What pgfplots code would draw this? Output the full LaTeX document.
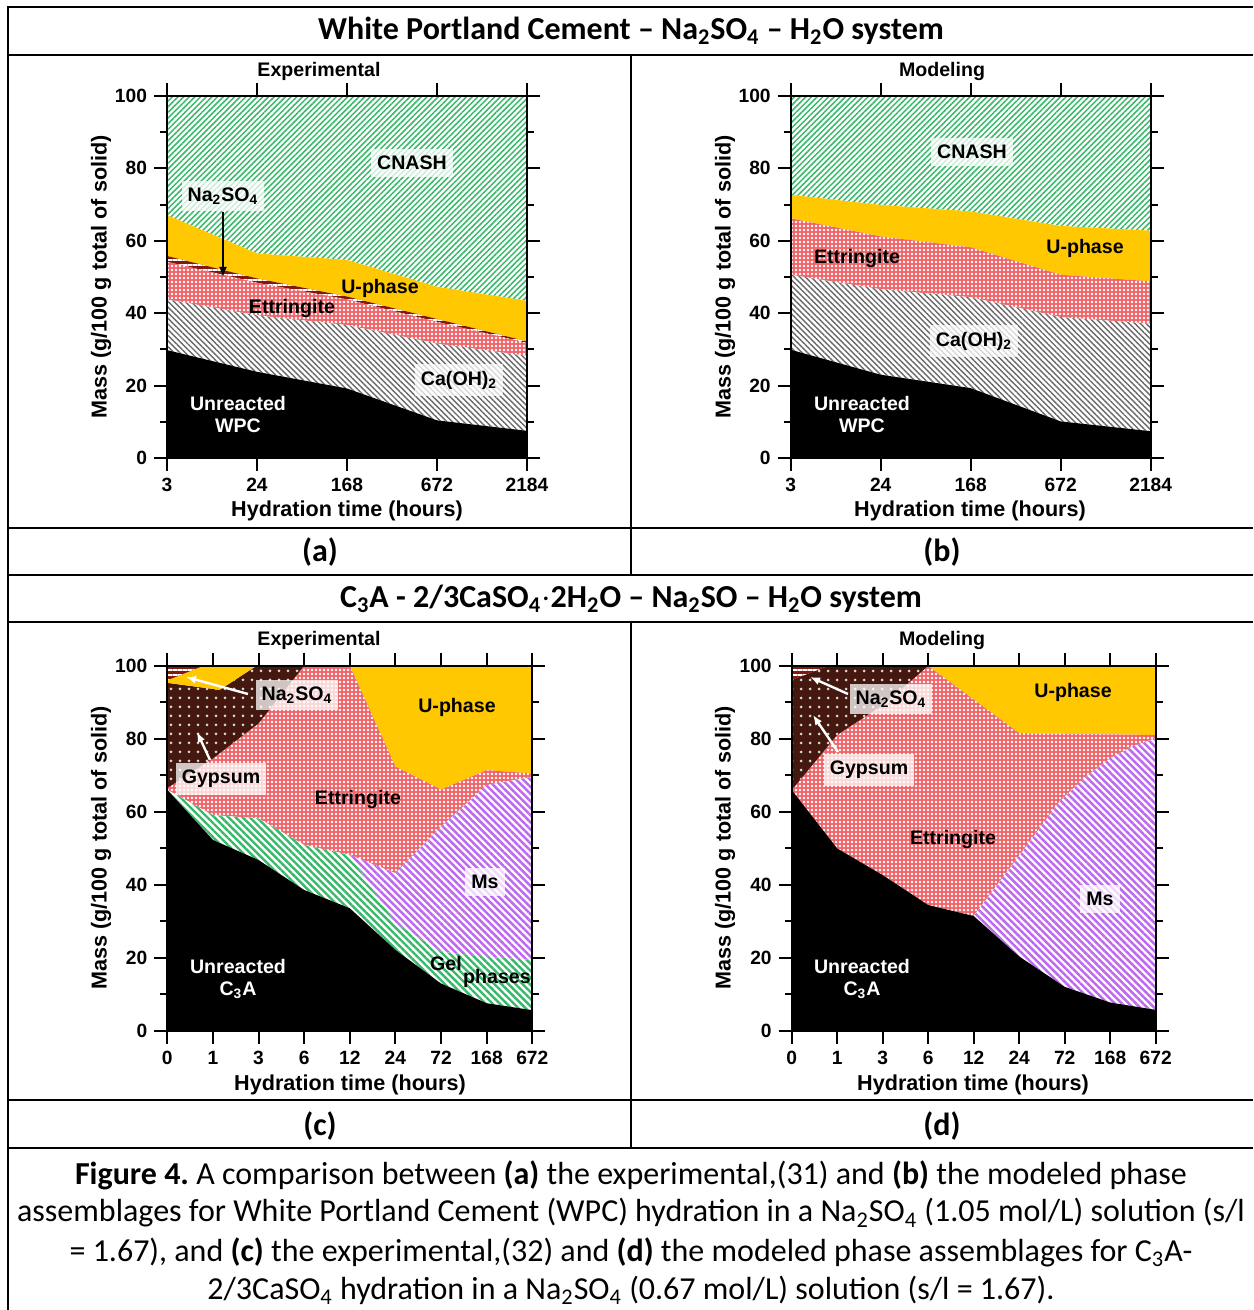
\documentclass[border=0pt]{standalone}
\usepackage{pgfplots}
\pgfplotsset{compat=1.18}
\usetikzlibrary{patterns.meta,arrows.meta}
\usepackage{fontspec}
\setmainfont{Carlito}
\newfontfamily\arial{Liberation Sans}
\newcommand\lab{\arial\bfseries\fontsize{9.8}{11}\selectfont}
\newcommand\axlab{\arial\bfseries\fontsize{10.8}{12}\selectfont}
\newcommand\frm{\fontsize{16}{18}\selectfont}
\newcommand\sub[1]{\textsubscript{#1}}
\frenchspacing

\definecolor{cgreen}{RGB}{55,185,105}
\definecolor{cuph}{RGB}{255,200,0}
\definecolor{cett}{RGB}{238,100,105}
\definecolor{cgray}{RGB}{105,105,105}
\definecolor{cms}{RGB}{190,105,240}
\definecolor{cgyp}{RGB}{68,24,14}
\definecolor{cna}{RGB}{130,25,15}

\tikzset{
 pcnash/.style={fill=white, postaction={pattern={Lines[angle=45,distance=2pt,line width=0.75pt]}, pattern color=cgreen}},
 pgel/.style={fill=white, postaction={pattern={Lines[angle=-45,distance=2.5pt,line width=1.2pt]}, pattern color=cgreen}},
 pch/.style={fill=white, postaction={pattern={Lines[angle=-45,distance=2pt,line width=0.7pt]}, pattern color=cgray}},
 pett/.style={fill=cett, postaction={pattern={Dots[distance=2pt,radius=0.72pt]}, pattern color=white}},
 pms/.style={fill=white, postaction={pattern={Lines[angle=-45,distance=2.5pt,line width=1.25pt]}, pattern color=cms}},
 pgyp/.style={fill=cgyp, postaction={pattern={Dots[distance=4.5pt,radius=0.75pt]}, pattern color=white!70!gray}},
 pna/.style={fill=cna, postaction={pattern={Lines[angle=0,distance=2.5pt,line width=0.8pt]}, pattern color=white}},
 bx/.style={fill=white, fill opacity=0.75, text opacity=1, inner xsep=3pt, inner ysep=3.5pt},
}

\pgfplotsset{
 reg/.style={draw=none, no markers, forget plot},
 panel/.style={scale only axis, anchor=south west, xmin=0, ymin=0, ymax=100,
   axis line style={line width=1pt}, tick style={line width=1pt, black},
   tick align=outside, major tick length=6.5pt, minor tick length=3.5pt,
   ytick={0,20,...,100}, minor y tick num=1, xtick pos=both, ytick pos=both,
   every tick label/.append style={font=\arial\bfseries\fontsize{9.6}{10}\selectfont},
   /pgf/number format/assume math mode=true, axis on top},
}

\begin{document}
\begin{tikzpicture}
\path[use as bounding box] (0,0) rectangle (626.5pt,655pt);

% ---------- (a) ----------
\begin{axis}[panel, at={(83.5pt,426pt)}, width=180pt, height=181pt, xmax=4,
  xtick={0,1,2,3,4}, xticklabels={3,24,168,672,2184}]
\addplot[reg,pcnash] coordinates {(0,100)(4,100)(4,43.4)(3,47.3)(2,54.7)(1,56.5)(0,67.1)};
\addplot[reg,fill=cuph] coordinates {(0,67.1)(1,56.5)(2,54.7)(3,47.3)(4,43.4)(4,32.2)(3,38.4)(2,44.6)(1,49.6)(0,55.8)};
\addplot[reg,pna] coordinates {(0,55.8)(1,49.6)(2,44.6)(3,38.4)(4,32.2)(4,31.8)(3,37.6)(2,43.8)(1,48.4)(0,54.2)};
\addplot[reg,pett] coordinates {(0,54.2)(1,48.4)(2,43.8)(3,37.6)(4,31.8)(4,28.2)(3,31.6)(2,36.7)(1,39.4)(0,43.8)};
\addplot[reg,pch] coordinates {(0,43.8)(1,39.4)(2,36.7)(3,31.6)(4,28.2)(4,7.5)(3,10.4)(2,19.2)(1,23.8)(0,29.8)};
\addplot[reg,fill=black] coordinates {(0,29.8)(1,23.8)(2,19.2)(3,10.4)(4,7.5)(4,0)(0,0)};
\end{axis}

% ---------- (b) ----------
\begin{axis}[panel, at={(395.35pt,426pt)}, width=180pt, height=181pt, xmax=4,
  xtick={0,1,2,3,4}, xticklabels={3,24,168,672,2184}]
\addplot[reg,pcnash] coordinates {(0,100)(4,100)(4,62.8)(3,64.1)(2,68.1)(1,69.9)(0,72.7)};
\addplot[reg,fill=cuph] coordinates {(0,72.7)(1,69.9)(2,68.1)(3,64.1)(4,62.8)(4,48.8)(3,50.6)(2,58.2)(1,61.2)(0,66.2)};
\addplot[reg,pett] coordinates {(0,66.2)(1,61.2)(2,58.2)(3,50.6)(4,48.8)(4,37.1)(3,38.9)(2,44.4)(1,46.6)(0,50.6)};
\addplot[reg,pch] coordinates {(0,50.6)(1,46.6)(2,44.4)(3,38.9)(4,37.1)(4,7.4)(3,10.1)(2,19.3)(1,23)(0,29.9)};
\addplot[reg,fill=black] coordinates {(0,29.9)(1,23)(2,19.3)(3,10.1)(4,7.4)(4,0)(0,0)};
\end{axis}

% ---------- (c) ----------
\begin{axis}[panel, at={(83.65pt,139.5pt)}, width=182.5pt, height=182.65pt, xmax=8,
  xtick={0,...,8}, xticklabels={0,1,3,6,12,24,72,168,672}]
\addplot[reg,fill=cuph] coordinates {(4,100)(8,100)(8,70.5)(7,71.4)(6,66.1)(5,72.4)};
\addplot[reg,pett] coordinates {(0,66.5)(1,74.6)(2,84.2)(3,100)(4,100)(5,72.4)(6,66.1)(7,71.4)(8,70.5)(8,69.6)(7,67.3)(6,55.9)(5,43.2)(4,48.2)(3,50.9)(2,58.2)(1,59.1)(0,66)};
\addplot[reg,pms] coordinates {(4,48.2)(5,43.2)(6,55.9)(7,67.3)(8,69.6)(8,19.4)(7,20.3)(6,21.7)(5,29.5)};
\addplot[reg,pgel] coordinates {(0,66)(1,59.1)(2,58.2)(3,50.9)(4,48.2)(5,29.5)(6,21.7)(7,20.3)(8,19.4)(8,5.7)(7,7.6)(6,13.0)(5,22.2)(4,33.6)(3,38.6)(2,46.8)(1,52.3)};
\addplot[reg,fill=black] coordinates {(0,66)(1,52.3)(2,46.8)(3,38.6)(4,33.6)(5,22.2)(6,13.0)(7,7.6)(8,5.7)(8,0)(0,0)};
\addplot[reg,pgyp] coordinates {(0,66.5)(1,74.6)(2,84.2)(3,100)(1.96,100)(1.15,93.4)(0,95.3)};
\addplot[reg,fill=cuph] coordinates {(0,95.3)(1.15,93.4)(1.96,100)(0.8,100)(0,96)};
\addplot[reg,pna] coordinates {(0,96)(0.8,100)(0,100)};
\end{axis}

% ---------- (d) ----------
\begin{axis}[panel, at={(395.85pt,139.5pt)}, width=182pt, height=182.5pt, xmax=8,
  xtick={0,...,8}, xticklabels={0,1,3,6,12,24,72,168,672}]
\addplot[reg,fill=cuph] coordinates {(3,100)(8,100)(8,81.1)(5,81.6)};
\addplot[reg,pett] coordinates {(0,66)(1,81.1)(2,89.3)(3,100)(5,81.6)(8,81.1)(8,80.2)(7.5,78)(7,74.7)(6.5,70)(6,64.2)(5.86,62.4)(5,48)(4,31.5)(3,34.5)(2,42.7)(1,50.0)};
\addplot[reg,pms] coordinates {(4,31.5)(5,48)(5.86,62.4)(6,64.2)(6.5,70)(7,74.7)(7.5,78)(8,80.2)(8,5.8)(7,7.8)(6,12.1)(5,20.4)};
\addplot[reg,fill=black] coordinates {(0,66)(1,50.0)(2,42.7)(3,34.5)(4,31.5)(5,20.4)(6,12.1)(7,7.8)(8,5.8)(8,0)(0,0)};
\addplot[reg,pgyp] coordinates {(0,66)(1,81.1)(2,89.3)(3,100)(0.8,100)(0,96.2)};
\addplot[reg,pna] coordinates {(0,96.2)(0.8,100)(0,100)};
\end{axis}

% ---------- frame and texts (pixel coordinates) ----------
\begin{scope}[x=0.5pt,y=-0.5pt,yshift=655pt]
\draw[line width=1pt] (1253,7) -- (8,7) -- (8,1310);
\foreach \yy in {55,528,575,622,1100,1148} \draw[line width=1pt] (8,\yy) -- (1253,\yy);
\draw[line width=1pt] (631,55) -- (631,575);
\draw[line width=1pt] (631,622) -- (631,1148);

\node[font=\frm\bfseries] at (631,31) {White Portland Cement -- Na\sub{2}SO\sub{4} -- H\sub{2}O system};
\node[font=\frm\bfseries] at (320,552) {(a)};
\node[font=\frm\bfseries] at (942,552) {(b)};
\node[font=\frm\bfseries] at (631,599) {C\sub{3}A - 2/3CaSO\sub{4}$\cdot$2H\sub{2}O -- Na\sub{2}SO -- H\sub{2}O system};
\node[font=\frm\bfseries] at (320,1126) {(c)};
\node[font=\frm\bfseries] at (942,1126) {(d)};
\node[font=\frm] at (631,1175) {\textbf{Figure 4.} A comparison between \textbf{(a)} the experimental,(31) and \textbf{(b)} the modeled phase};
\node[font=\frm] at (631,1213) {assemblages for White Portland Cement (WPC) hydration in a Na\sub{2}SO\sub{4} (1.05 mol/L) solution (s/l};
\node[font=\frm] at (631,1252) {= 1.67), and \textbf{(c)} the experimental,(32) and \textbf{(d)} the modeled phase assemblages for C\sub{3}A-};
\node[font=\frm] at (631,1290) {2/3CaSO\sub{4} hydration in a Na\sub{2}SO\sub{4} (0.67 mol/L) solution (s/l = 1.67).};

% axis titles and labels
\foreach \cx/\cy/\t in {319/71/Experimental, 942/71/Modeling, 319/640/Experimental, 942/640/Modeling}
  \node[font=\lab] at (\cx,\cy) {\t};
\foreach \cx/\cy in {347/511, 970/511, 350/1085, 973/1085}
  \node[font=\axlab] at (\cx,\cy) {Hydration time (hours)};
\foreach \cx/\cy in {101/277, 725/277, 101/848, 725/848}
  \node[font=\axlab, rotate=90] at (\cx,\cy) {Mass (g/100 g total of solid)};

% (a)
\node[bx,font=\lab] at (412,163) {CNASH};
\node[bx,font=\lab] at (223,196) {Na\sub{2}SO\sub{4}};
\draw[-{Latex[length=5pt,width=4pt]}, line width=0.8pt] (223,212) -- (223,277);
\node[font=\lab] at (380,288) {U-phase};
\node[font=\lab] at (292,308) {Ettringite};
\node[bx,font=\lab] at (459,380) {Ca(OH)\sub{2}};
\node[font=\lab, text=white, align=center, inner sep=0pt] at (238,415) {Unreacted\\[0pt]WPC};
% (b)
\node[bx,font=\lab] at (972,152) {CNASH};
\node[font=\lab] at (1085,248) {U-phase};
\node[font=\lab] at (857,258) {Ettringite};
\node[bx,font=\lab] at (974,341) {Ca(OH)\sub{2}};
\node[font=\lab, text=white, align=center, inner sep=0pt] at (862,415) {Unreacted\\[0pt]WPC};
% (c)
\draw[-{Latex[length=5pt,width=4pt]}, line width=1.2pt, white] (248,694) -- (186,677);
\draw[-{Latex[length=5pt,width=4pt]}, line width=1.2pt, white] (210,760) -- (197,732);
\node[bx,font=\lab] at (297,695) {Na\sub{2}SO\sub{4}};
\node[font=\lab] at (457,707) {U-phase};
\node[bx,font=\lab] at (221,779) {Gypsum};
\node[font=\lab] at (358,799) {Ettringite};
\node[bx,font=\lab] at (485,882) {Ms};
\node[font=\lab] at (446,964) {Gel};
\node[font=\lab] at (497,978) {phases};
\node[font=\lab, text=white, align=center, inner sep=0pt] at (238,979) {Unreacted\\[0pt]C\sub{3}A};
% (d)
\draw[-{Latex[length=5pt,width=4pt]}, line width=1.2pt, white] (848,694) -- (810,677);
\draw[-{Latex[length=5pt,width=4pt]}, line width=1.2pt, white] (838,752) -- (813,715);
\node[bx,font=\lab] at (891,699) {Na\sub{2}SO\sub{4}};
\node[font=\lab] at (1073,692) {U-phase};
\node[bx,font=\lab] at (869,770) {Gypsum};
\node[font=\lab] at (953,839) {Ettringite};
\node[bx,font=\lab] at (1100,899) {Ms};
\node[font=\lab, text=white, align=center, inner sep=0pt] at (862,979) {Unreacted\\[0pt]C\sub{3}A};
\end{scope}
\end{tikzpicture}
\end{document}
